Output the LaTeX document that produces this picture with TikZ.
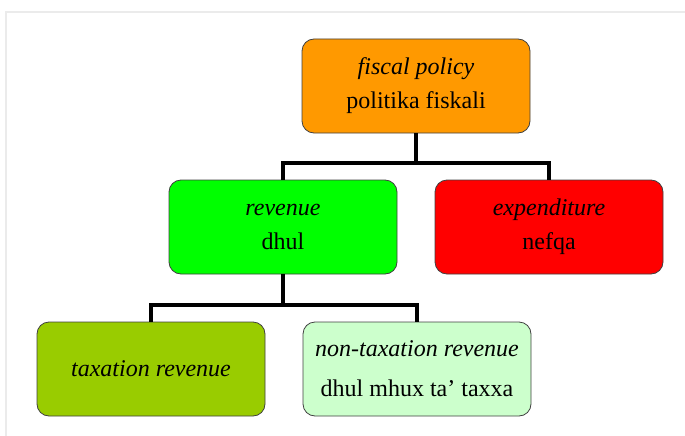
\documentclass[tikz,border=0pt]{standalone}
\usepackage{fontspec}
\setmainfont{Liberation Serif}
\definecolor{fiscalorange}{HTML}{FF9900}
\definecolor{revgreen}{HTML}{00FF00}
\definecolor{expred}{HTML}{FF0000}
\definecolor{taxolive}{HTML}{99CC00}
\definecolor{nontaxmint}{HTML}{CCFFCC}

\begin{document}
\begin{tikzpicture}[x=1pt,y=-1pt,
    box/.style={draw=black!75, line width=0.8pt, rounded corners=12pt,
        minimum width=228pt, minimum height=94pt, inner sep=0pt,
        align=center, font=\fontsize{24}{34}\selectfont},
    link/.style={line width=4.5pt}]
    \useasboundingbox (0,0) rectangle (685,436);

    % Draw the frame
    \draw[black!8, line width=1.5pt] (6,436) -- (6,12) -- (685,12);

    % Draw the boxes
    \node[box, fill=fiscalorange] (fiscal) at (416,86) {\textit{fiscal policy}\\politika fiskali};
    \node[box, fill=revgreen] (revenue) at (283,227) {\textit{revenue}\\dhul};
    \node[box, fill=expred] (expenditure) at (549,227) {\textit{expenditure}\\nefqa};
    \node[box, fill=taxolive] (taxation) at (151,369) {\textit{taxation revenue}};
    \node[box, fill=nontaxmint, font=\fontsize{24}{40}\selectfont] (nontax) at (417,369) {\textit{non-taxation revenue}\\dhul mhux ta’ taxxa};

    % Draw the connectors
    \coordinate (topbar) at (416,163);
    \coordinate (lowbar) at (283,305);
    \draw[link] (fiscal.south) -- (topbar);
    \draw[link] (revenue.north) |- (topbar) -| (expenditure.north);
    \draw[link] (revenue.south) -- (lowbar);
    \draw[link] (taxation.north) |- (lowbar) -| (nontax.north);
\end{tikzpicture}
\end{document}
